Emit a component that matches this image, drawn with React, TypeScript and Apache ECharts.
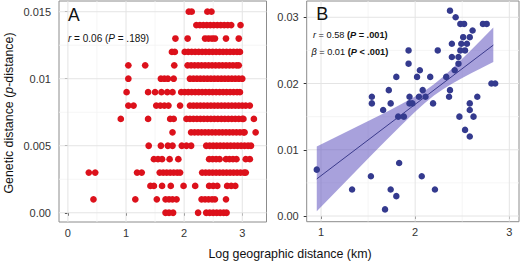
import React, { useEffect, useRef } from "react";
import * as echarts from "echarts";

const FONT = "'Liberation Sans', Arial, Helvetica, sans-serif";

// ---------- Panel A: genetic distance levels and log geographic distances ----------
const levelsA = [
  0, 0.001, 0.002, 0.003, 0.004, 0.005, 0.006, 0.007, 0.008, 0.009, 0.01, 0.011, 0.012, 0.013, 0.014, 0.015,
];
const a000 = [1.68, 1.74, 1.81, 2.24, 2.38, 2.44, 2.5, 2.56, 2.62, 2.68, 2.73];
const a001 = [0.44, 1.16, 1.53, 1.68, 1.74, 1.8, 1.87, 2.3, 2.36, 2.42, 2.48, 2.53, 2.72];
const a002 = [1.42, 1.48, 1.62, 1.77, 1.99, 2.19, 2.43, 2.5, 2.57, 2.74, 2.81, 2.88];
const a003 = [
  0.36, 0.47, 1.19, 1.27, 1.58, 1.64, 1.7, 1.76, 1.82, 1.88, 1.93, 2.31, 2.37, 2.43, 2.49, 2.55, 2.61, 2.67,
  2.73, 2.79, 2.85, 2.91, 2.97, 3.03, 3.06,
];
const a004 = [1.48, 1.55, 1.62, 1.75, 1.9, 2.43, 2.49, 2.55, 2.61, 2.72, 2.78, 2.84, 2.9, 3.06, 3.13];
const a005 = [
  1.39, 1.6, 1.72, 1.8, 1.96, 2.04, 2.12, 2.38, 2.44, 2.5, 2.56, 2.62, 2.68, 2.74, 2.8, 2.86, 2.92, 2.98, 3.04,
  3.1, 3.15,
];
const a006 = [
  1.8, 2.12, 2.18, 2.24, 2.3, 2.36, 2.42, 2.48, 2.54, 2.6, 2.66, 2.72, 2.78, 2.84, 2.9, 2.96, 3.02, 3.04, 3.23,
];
const a007 = [
  0.91, 1.38, 1.76, 1.82, 2.04, 2.1, 2.16, 2.22, 2.28, 2.34, 2.4, 2.46, 2.52, 2.58, 2.64, 2.7, 2.76, 2.82, 2.88,
  2.94, 3.0, 3.02, 3.2,
];
const a008 = [
  1.04, 1.13, 1.52, 1.59, 1.66, 1.73, 1.93, 2.1, 2.16, 2.22, 2.28, 2.34, 2.4, 2.46, 2.52, 2.58, 2.64, 2.7, 2.76,
  2.82, 2.88, 2.94, 3.0, 3.06, 3.13,
];
const a009 = [
  1.01, 1.38, 1.5, 1.61, 1.71, 1.8, 1.95, 2.01, 2.07, 2.13, 2.19, 2.25, 2.31, 2.37, 2.43, 2.49, 2.55, 2.61, 2.67,
  2.73, 2.79, 2.85, 2.91, 2.96,
];
const a010 = [
  1.04, 1.6, 1.66, 1.72, 1.82, 2.1, 2.16, 2.22, 2.28, 2.34, 2.4, 2.46, 2.52, 2.58, 2.64, 2.7, 2.76, 2.82, 2.88,
  2.94, 3.0,
];
const a011 = [
  1.04, 1.33, 1.83, 2.06, 2.12, 2.18, 2.24, 2.3, 2.36, 2.42, 2.48, 2.54, 2.6, 2.66, 2.72, 2.78, 2.84, 2.9, 2.94,
];
const a012 = [
  1.79, 1.84, 2.01, 2.07, 2.13, 2.19, 2.25, 2.31, 2.37, 2.43, 2.49, 2.55, 2.61, 2.67, 2.73, 2.79, 2.85, 2.91,
  2.96,
];
const a013 = [1.85, 2.06, 2.36, 2.42, 2.48, 2.53, 2.72, 2.94];
const a014 = [2.21, 2.27, 2.33, 2.39, 2.45, 2.51, 2.57, 2.63, 2.69, 2.75, 2.81, 2.97];
const a015 = [2.08, 2.13, 2.4, 2.47];
const rowsA = [a000, a001, a002, a003, a004, a005, a006, a007, a008, a009, a010, a011, a012, a013, a014, a015];

// ---------- Panel B ----------
const xB = [
  2.37, 2.43, 2.48, 2.52, 2.72, 2.76, 2.61, 2.51, 2.58, 2.39, 2.49, 2.55, 1.93, 2.24, 2.48, 2.53, 2.39, 2.46, 1.93,
  2.46, 2.05, 2.42, 1.8, 2.02, 2.16, 2.33, 2.81, 2.85, 1.72, 2.08, 2.37, 1.54, 1.94, 2.04, 2.11, 2.36, 2.66, 1.54,
  1.74, 1.94, 1.97, 2.19, 2.58, 1.66, 2.58, 1.82, 1.88, 2.47, 2.62, 2.53, 2.58, 1.83, 0.955, 1.53, 2.07, 1.33,
  1.74, 2.21, 1.8, 1.68,
];
const yB = [
  0.031, 0.03, 0.029, 0.029, 0.029, 0.029, 0.028, 0.027, 0.027, 0.026, 0.026, 0.026, 0.025, 0.025, 0.025, 0.025,
  0.024, 0.024, 0.023, 0.023, 0.022, 0.022, 0.021, 0.021, 0.021, 0.021, 0.02, 0.02, 0.019, 0.019, 0.019, 0.018,
  0.018, 0.018, 0.018, 0.018, 0.018, 0.017, 0.017, 0.017, 0.017, 0.017, 0.017, 0.016, 0.016, 0.015, 0.015, 0.015,
  0.015, 0.013, 0.012, 0.008, 0.007, 0.006, 0.006, 0.004, 0.004, 0.004, 0.003, 0.001,
];
// confidence band
const bandX = [0.955, 1.1, 1.25, 1.4, 1.55, 1.7, 1.85, 2.0, 2.1, 2.2, 2.3, 2.4, 2.5, 2.6, 2.7, 2.83];
const bandLo = [
  0.0007, 0.00282, 0.00501, 0.0072, 0.00938, 0.01154, 0.01367, 0.01574, 0.01704, 0.0182, 0.01919, 0.02005,
  0.02084, 0.02159, 0.02232, 0.02325,
];
const bandHi = [
  0.0105, 0.01151, 0.01256, 0.01361, 0.01468, 0.01575, 0.01686, 0.01803, 0.01889, 0.0199, 0.02106, 0.02236,
  0.02374, 0.02515, 0.02658, 0.02845,
];
const fitX = [0.955, 2.83];
const fitY = [0.0056, 0.0258];

// ---------- Ticks ----------
const xTicksA = [0, 1, 2, 3];
const xLabelsA = ["0", "1", "2", "3"];
const yTicksA = [0, 0.005, 0.01, 0.015];
const yLabelsA = ["0.00", "0.005", "0.01", "0.015"];
const xTicksB = [1, 2, 3];
const xLabelsB = ["1", "2", "3"];
const yTicksB = [0, 0.01, 0.02, 0.03];
const yLabelsB = ["0.00", "0.01", "0.02", "0.03"];
const xMinorA = [0.5, 1.5, 2.5];
const yMinorA = [0.0025, 0.0075, 0.0125];
const xMinorB = [1.5, 2.5];
const yMinorB = [0.005, 0.015, 0.025];

const RED = "#DC111B";
const BLUE = "#343A8E";

function labelFor(ticks: number[], labels: string[]) {
  return (v: number) => {
    let best = 0;
    for (let i = 1; i < ticks.length; i++) {
      if (Math.abs(ticks[i] - v) < Math.abs(ticks[best] - v)) best = i;
    }
    return labels[best];
  };
}

// one item per gridline: [value, vertical(1)/horizontal(0), major(1)/minor(0)]
function gridItems(xMaj: number[], xMin: number[], yMaj: number[], yMin: number[]) {
  return [
    ...xMin.map((v) => [v, 1, 0]),
    ...yMin.map((v) => [v, 0, 0]),
    ...xMaj.map((v) => [v, 1, 1]),
    ...yMaj.map((v) => [v, 0, 1]),
  ];
}

function gridSeries(idx: number, items: number[][]) {
  return {
    type: "custom",
    xAxisIndex: idx,
    yAxisIndex: idx,
    z: 1,
    silent: true,
    clip: true,
    dimensions: ["v", "dir", "major"],
    encode: { x: -1, y: -1 },
    data: items,
    renderItem: (params: any, api: any) => {
      const cs = params.coordSys;
      const v = api.value(0);
      const vertical = api.value(1) === 1;
      const major = api.value(2) === 1;
      const p = api.coord([v, v]);
      const shape = vertical
        ? { x1: p[0], y1: cs.y, x2: p[0], y2: cs.y + cs.height }
        : { x1: cs.x, y1: p[1], x2: cs.x + cs.width, y2: p[1] };
      return {
        type: "line",
        shape,
        style: { stroke: major ? "#E4E4E4" : "#F2F2F2", lineWidth: major ? 1 : 0.8 },
      };
    },
  };
}

function valueAxis(gridIndex: number, min: number, max: number, ticks: number[], labels: string[], margin: number) {
  return {
    type: "value" as const,
    gridIndex,
    min,
    max,
    axisLine: { show: false },
    splitLine: { show: false },
    minorSplitLine: { show: false },
    axisTick: {
      show: true,
      customValues: ticks,
      length: 3,
      inside: false,
      lineStyle: { color: "#333333", width: 1 },
    },
    axisLabel: {
      show: true,
      customValues: ticks,
      formatter: labelFor(ticks, labels),
      margin,
      color: "#333333",
      fontSize: 11,
      fontFamily: FONT,
    },
  };
}

export default function App() {
  const ref = useRef<HTMLDivElement>(null);

  useEffect(() => {
    document.body.style.margin = "0";
    if (!ref.current) return;
    const chart = echarts.init(ref.current, undefined, { renderer: "svg" });

    const ptsA: number[][] = [];
    rowsA.forEach((row, i) => row.forEach((x) => ptsA.push([x, levelsA[i]])));
    const ptsB = xB.map((x, i) => [x, yB[i]]);

    const txt = (size: number, extra: any = {}) => ({ fontSize: size, fontFamily: FONT, fill: "#111", ...extra });

    chart.setOption({
      animation: false,
      backgroundColor: "#ffffff",
      grid: [
        { left: 59, top: 1, width: 207.5, height: 221, show: true, borderColor: "#8C8C8C", borderWidth: 1, backgroundColor: "#fff" },
        { left: 306.7, top: 1, width: 212.3, height: 220.7, show: true, borderColor: "#8C8C8C", borderWidth: 1, backgroundColor: "#fff" },
      ],
      xAxis: [
        valueAxis(0, -0.153, 3.417, xTicksA, xLabelsA, 5),
        valueAxis(1, 0.848, 3.103, xTicksB, xLabelsB, 5),
      ],
      yAxis: [
        valueAxis(0, -0.00069, 0.0158, yTicksA, yLabelsA, 8),
        valueAxis(1, -0.00086, 0.03246, yTicksB, yLabelsB, 8),
      ],
      series: [
        gridSeries(0, gridItems(xTicksA, xMinorA, yTicksA, yMinorA)),
        gridSeries(1, gridItems(xTicksB, xMinorB, yTicksB, yMinorB)),
        {
          type: "scatter",
          xAxisIndex: 0,
          yAxisIndex: 0,
          data: ptsA,
          symbol: "circle",
          symbolSize: 6.7,
          itemStyle: { color: RED, opacity: 1 },
          z: 4,
          silent: true,
        },
        {
          type: "custom",
          xAxisIndex: 1,
          yAxisIndex: 1,
          z: 2,
          silent: true,
          encode: { x: 0, y: 1 },
          data: [[bandX[0], bandLo[0]]],
          renderItem: (_params: any, api: any) => {
            const pts: number[][] = [];
            bandX.forEach((x, i) => pts.push(api.coord([x, bandHi[i]])));
            for (let i = bandX.length - 1; i >= 0; i--) pts.push(api.coord([bandX[i], bandLo[i]]));
            return {
              type: "polygon",
              shape: { points: pts },
              style: { fill: "rgba(96, 84, 192, 0.55)", stroke: "none" },
            };
          },
        },
        {
          type: "line",
          xAxisIndex: 1,
          yAxisIndex: 1,
          data: fitX.map((x, i) => [x, fitY[i]]),
          symbol: "none",
          lineStyle: { color: "#3A3A8C", width: 1 },
          z: 3,
          silent: true,
        },
        {
          type: "scatter",
          xAxisIndex: 1,
          yAxisIndex: 1,
          data: ptsB,
          symbol: "circle",
          symbolSize: 6.5,
          itemStyle: { color: BLUE, opacity: 1 },
          z: 4,
          silent: true,
        },
      ],
      graphic: [
        { type: "text", x: 68, y: 14.5, z: 10, style: { text: "A", ...txt(17.5), align: "left", verticalAlign: "middle" } },
        { type: "text", x: 316.3, y: 14, z: 10, style: { text: "B", ...txt(18), align: "left", verticalAlign: "middle" } },
        {
          type: "text",
          x: 68,
          y: 38.5,
          z: 10,
          style: {
            text: "{i|r} = 0.06 ({i|P} = .189)",
            ...txt(10),
            align: "left",
            verticalAlign: "middle",
            rich: { i: { fontStyle: "italic", fontSize: 10, fontFamily: FONT, fill: "#111" } },
          },
        },
        {
          type: "text",
          x: 313,
          y: 35,
          z: 10,
          style: {
            text: "{i|r} = 0.58 {b|(}{bi|P}{b| = .001)}",
            ...txt(9.2),
            align: "left",
            verticalAlign: "middle",
            rich: {
              i: { fontStyle: "italic", fontSize: 9.2, fontFamily: FONT, fill: "#111" },
              b: { fontWeight: "bold", fontSize: 9.2, fontFamily: FONT, fill: "#111" },
              bi: { fontWeight: "bold", fontStyle: "italic", fontSize: 9.2, fontFamily: FONT, fill: "#111" },
            },
          },
        },
        {
          type: "text",
          x: 311.5,
          y: 52,
          z: 10,
          style: {
            text: "{i|β} = 0.01 {b|(}{bi|P}{b| < .001)}",
            ...txt(9.2),
            align: "left",
            verticalAlign: "middle",
            rich: {
              i: { fontStyle: "italic", fontSize: 9.2, fontFamily: FONT, fill: "#111" },
              b: { fontWeight: "bold", fontSize: 9.2, fontFamily: FONT, fill: "#111" },
              bi: { fontWeight: "bold", fontStyle: "italic", fontSize: 9.2, fontFamily: FONT, fill: "#111" },
            },
          },
        },
        {
          type: "text",
          x: 290,
          y: 254,
          z: 10,
          style: { text: "Log geographic distance (km)", ...txt(12.4), align: "center", verticalAlign: "middle" },
        },
        {
          type: "text",
          x: 9,
          y: 113,
          rotation: Math.PI / 2,
          z: 10,
          style: {
            text: "Genetic distance ({i|p}-distance)",
            ...txt(12.4),
            align: "center",
            verticalAlign: "middle",
            rich: { i: { fontStyle: "italic", fontSize: 12.4, fontFamily: FONT, fill: "#111" } },
          },
        },
      ],
    });

    return () => chart.dispose();
  }, []);

  return <div ref={ref} style={{ position: "absolute", left: 0, top: 0, width: 520, height: 264 }} />;
}
